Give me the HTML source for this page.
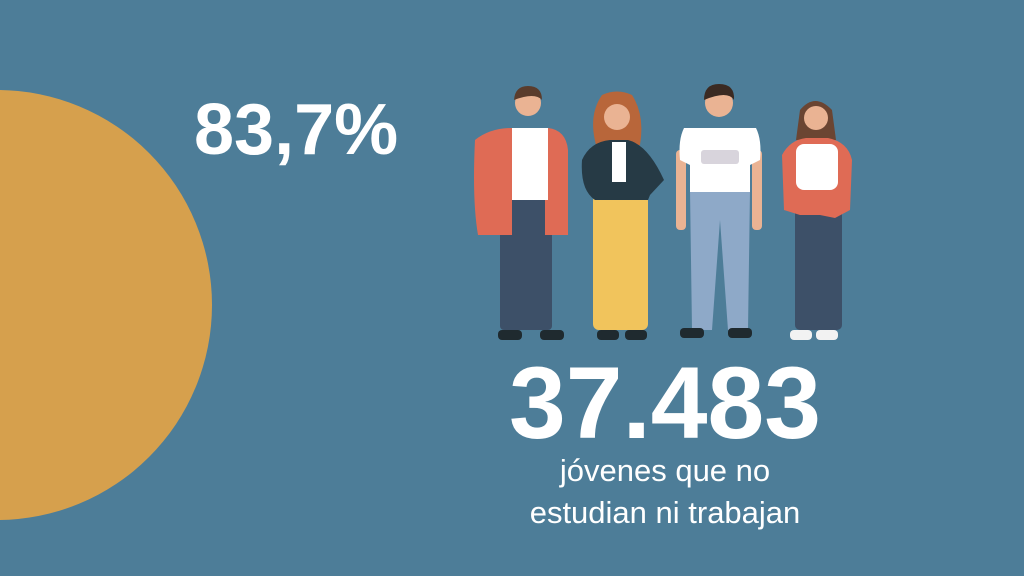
<!DOCTYPE html>
<html><head><meta charset="utf-8"><style>
html,body{margin:0;padding:0;}
body{width:1024px;height:576px;overflow:hidden;background:#4d7d98;position:relative;font-family:"Liberation Sans",sans-serif;color:#fff;}
.t{position:absolute;white-space:nowrap;}
</style></head><body>
<svg style="position:absolute;left:0;top:0" width="1024" height="576">
 <circle cx="-3" cy="305" r="215" fill="#d6a04d"/>
 <g>
  <rect x="500" y="195" width="52" height="135" rx="4" fill="#3d5068"/>
  <path d="M475 140 Q490 128 512 128 L548 128 Q566 130 568 150 L568 235 L545 235 L545 200 L512 200 L512 235 L478 235 Q472 200 475 140Z" fill="#df6b55"/>
  <rect x="512" y="128" width="36" height="72" fill="#ffffff"/>
  <circle cx="528" cy="103" r="13" fill="#eab393"/>
  <path d="M514 100 Q515 86 528 86 Q542 86 542 100 Q535 92 514 100Z" fill="#5a3c2c"/>
  <rect x="498" y="330" width="24" height="10" rx="4" fill="#1f2a2f"/>
  <rect x="540" y="330" width="24" height="10" rx="4" fill="#1f2a2f"/>
 </g>
 <g>
  <path d="M602 95 Q617 88 632 95 Q645 115 640 145 L596 145 Q588 115 602 95Z" fill="#b8663a"/>
  <circle cx="617" cy="117" r="13" fill="#eab393"/>
  <rect x="593" y="195" width="55" height="135" rx="6" fill="#f1c45c"/>
  <path d="M582 160 Q590 142 610 140 L628 140 Q648 145 664 180 L650 195 L648 200 L595 200 Q580 190 582 160Z" fill="#263a45"/>
  <rect x="612" y="142" width="14" height="40" fill="#ffffff"/>
  <rect x="597" y="330" width="22" height="10" rx="4" fill="#1f2a2f"/>
  <rect x="625" y="330" width="22" height="10" rx="4" fill="#1f2a2f"/>
 </g>
 <g>
  <rect x="676" y="150" width="10" height="80" rx="4" fill="#eab393"/>
  <rect x="752" y="150" width="10" height="80" rx="4" fill="#eab393"/>
  <path d="M690 190 L750 190 L748 330 L728 330 L720 220 L712 330 L692 330Z" fill="#8ea9c8"/>
  <path d="M684 128 L756 128 Q762 140 760 160 L750 165 L750 192 L690 192 L690 165 L680 160 Q678 140 684 128Z" fill="#ffffff"/>
  <rect x="701" y="150" width="38" height="14" rx="3" fill="#d8d4dc"/>
  <circle cx="719" cy="103" r="14" fill="#eab393"/>
  <path d="M704 100 Q704 84 719 84 Q735 84 734 100 Q728 90 704 100Z" fill="#3b2a22"/>
  <rect x="680" y="328" width="24" height="10" rx="4" fill="#1f2a2f"/>
  <rect x="728" y="328" width="24" height="10" rx="4" fill="#1f2a2f"/>
 </g>
 <g>
  <path d="M800 110 Q815 92 832 110 L836 140 L796 140Z" fill="#6b4532"/>
  <circle cx="816" cy="118" r="12" fill="#eab393"/>
  <rect x="795" y="188" width="47" height="142" rx="5" fill="#3d5068"/>
  <path d="M782 155 Q790 140 806 138 L828 138 Q848 142 852 160 L850 210 L835 218 L820 215 L800 215 L784 210Z" fill="#df6b55"/>
  <rect x="796" y="144" width="42" height="46" rx="8" fill="#ffffff"/>
  <rect x="790" y="330" width="22" height="10" rx="4" fill="#f2f2f2"/>
  <rect x="816" y="330" width="22" height="10" rx="4" fill="#f2f2f2"/>
 </g>
</svg>
<div class="t" style="left:194px;top:85px;font-size:72px;font-weight:bold;line-height:90px;">83,7%</div>
<div class="t" style="left:509px;top:348px;font-size:102px;font-weight:bold;line-height:110px;">37.483</div>
<div class="t" style="left:465px;width:400px;top:450px;font-size:31px;line-height:42px;text-align:center;white-space:normal;">jóvenes que no<br>estudian ni trabajan</div>
</body></html>
